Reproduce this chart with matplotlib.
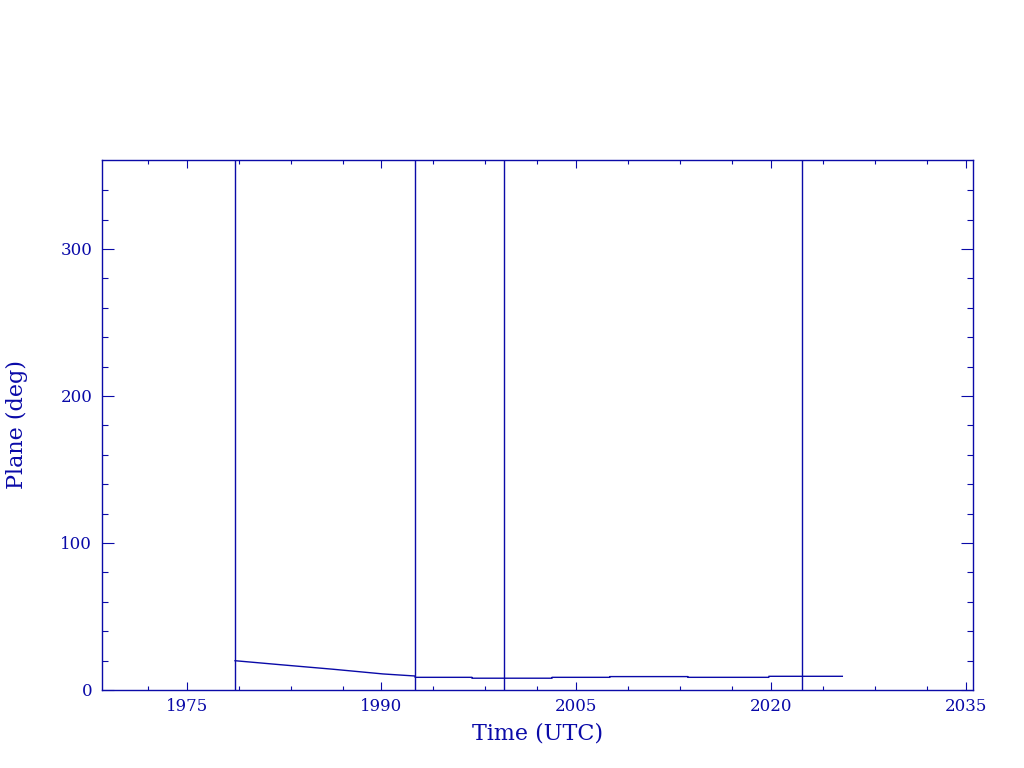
#!/usr/bin/env python3

from matplotlib import pyplot as plt
from matplotlib.ticker import FixedLocator

# orbital plane angle vs time
time_yr = [1978.72, 1982.19, 1986.27, 1990.12, 1992.59, 1992.59, 1996.97, 1996.97,
           2003.14, 2003.14, 2007.59, 2007.59, 2013.60, 2013.60, 2019.84, 2019.84, 2025.50]
plane_deg = [19.9, 17.2, 14.1, 10.9, 9.5, 8.6, 8.6, 8.0,
             8.0, 8.6, 8.6, 9.1, 9.1, 8.6, 8.6, 9.3, 9.3]

# event markers
event_yr = [1978.75, 1992.59, 1999.45, 2022.43]

major_x = [1975, 1990, 2005, 2020, 2035]
minor_x = [1972, 1979, 1983, 1987, 1994, 1998, 2002, 2009, 2013, 2017, 2024, 2028, 2032]
minor_y = [v for v in range(20, 360, 20) if v % 100 != 0]

blue = '#0a0aa8'
plt.rcParams['font.family'] = 'DejaVu Serif'

fig = plt.figure(figsize=(10.24, 7.68), dpi=100)
ax = fig.add_axes([0.0996, 0.1016, 0.9505 - 0.0996, 0.7917 - 0.1016])

ax.plot(time_yr, plane_deg, color=blue, lw=1.0)
for t in event_yr:
    ax.axvline(t, color=blue, lw=1.0)

ax.set_xlim(1968.47, 2035.59)
ax.set_ylim(0, 360.5)

ax.xaxis.set_major_locator(FixedLocator(major_x))
ax.xaxis.set_minor_locator(FixedLocator(minor_x))
ax.yaxis.set_major_locator(FixedLocator([0, 100, 200, 300]))
ax.yaxis.set_minor_locator(FixedLocator(minor_y))

for s in ax.spines.values():
    s.set_color(blue)
    s.set_linewidth(1.0)

ax.tick_params(axis='both', which='both', direction='in', top=True, right=True,
               color=blue, labelcolor=blue, labelsize=12, width=0.8)
ax.tick_params(axis='x', which='major', length=5.8, pad=6)
ax.tick_params(axis='x', which='minor', length=2.6)
ax.tick_params(axis='y', which='major', length=8.8, pad=7)
ax.tick_params(axis='y', which='minor', length=4.2)

ax.set_xlabel('Time (UTC)', color=blue, fontsize=16, labelpad=5)
ax.set_ylabel('Plane (deg)', color=blue, fontsize=16, labelpad=23)

fig.savefig('out.png', dpi=100)
